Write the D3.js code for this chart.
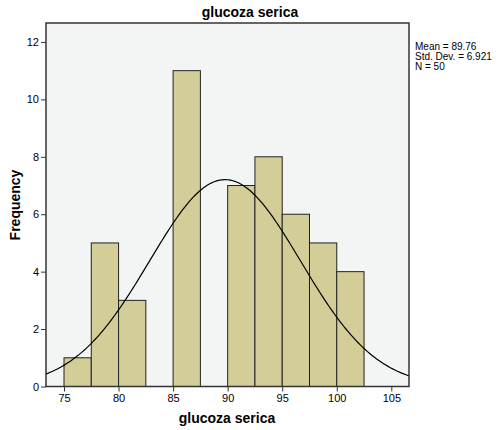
<!DOCTYPE html>
<html>
<head>
<meta charset="utf-8">
<script src="https://d3js.org/d3.v7.min.js"></script>
<style>
  body { margin: 0; background: #fff; }
  text { font-family: Arial, "Liberation Sans", sans-serif; fill: #000; }
</style>
</head>
<body>
<script>
// histogram bins (lower edge, width 2.5) and counts
var binStarts = [75, 77.5, 80, 82.5, 85, 87.5, 90, 92.5, 95, 97.5, 100];
var counts = [1, 5, 3, 0, 11, 0, 7, 8, 6, 5, 4];
var binWidth = 2.5;
var xTicks = [75, 80, 85, 90, 95, 100, 105];
var yTicks = [0, 2, 4, 6, 8, 10, 12];
var stats = ["Mean = 89.76", "Std. Dev. = 6.921", "N = 50"];
var mean = 89.76, sd = 6.921, n = 50;

var width = 499, height = 430;
var plotLeft = 46, plotRight = 409, plotTop = 23, plotBottom = 386.5;

var svg = d3.select("body").append("svg")
    .attr("width", width)
    .attr("height", height);

var x = d3.scaleLinear().domain([73.35, 106.62]).range([plotLeft, plotRight]);
var y = d3.scaleLinear().domain([0, 12.66]).range([plotBottom, plotTop]);

// plot background
svg.append("rect")
    .attr("x", plotLeft).attr("y", plotTop)
    .attr("width", plotRight - plotLeft).attr("height", plotBottom - plotTop)
    .attr("fill", "#f3f5f4");

var bins = binStarts.map(function(b, i) { return { x0: b, x1: b + binWidth, n: counts[i] }; })
    .filter(function(d) { return d.n > 0; });

svg.selectAll(".bar")
    .data(bins)
    .enter()
    .append("rect")
    .classed("bar", true)
    .attr("x", function(d) { return x(d.x0); })
    .attr("y", function(d) { return y(d.n); })
    .attr("width", function(d) { return x(d.x1) - x(d.x0); })
    .attr("height", function(d) { return y(0) - y(d.n); })
    .attr("fill", "#d3ce97")
    .attr("stroke", "#222")
    .attr("stroke-width", 1);

// normal curve
var pts = d3.range(0, 201).map(function(i) {
    var v = 73.35 + (106.62 - 73.35) * i / 200;
    var z = (v - mean) / sd;
    return [v, n * binWidth / (sd * Math.sqrt(2 * Math.PI)) * Math.exp(-0.5 * z * z)];
});
svg.append("path")
    .attr("d", d3.line().x(function(d) { return x(d[0]); }).y(function(d) { return y(d[1]); })(pts))
    .attr("fill", "none")
    .attr("stroke", "#000")
    .attr("stroke-width", 1.2);

// frame
svg.append("rect")
    .attr("x", plotLeft).attr("y", plotTop)
    .attr("width", plotRight - plotLeft).attr("height", plotBottom - plotTop)
    .attr("fill", "none")
    .attr("stroke", "#333")
    .attr("stroke-width", 1.5);

var xAxis = svg.append("g")
    .attr("transform", "translate(0," + plotBottom + ")")
    .call(d3.axisBottom(x).tickValues(xTicks).tickSize(5).tickPadding(3));
var yAxis = svg.append("g")
    .attr("transform", "translate(" + plotLeft + ",0)")
    .call(d3.axisLeft(y).tickValues(yTicks).tickSize(5).tickPadding(2));
[xAxis, yAxis].forEach(function(a) {
    a.select(".domain").remove();
    a.selectAll("line").attr("stroke", "#333");
    a.selectAll("text").attr("font-size", 11).attr("font-family", "Arial, 'Liberation Sans', sans-serif").attr("fill", "#222");
});

svg.append("text")
    .attr("x", 250).attr("y", 17)
    .attr("text-anchor", "middle")
    .attr("font-size", 14).attr("font-weight", "bold")
    .text("glucoza serica");

svg.append("text")
    .attr("x", 227).attr("y", 423)
    .attr("text-anchor", "middle")
    .attr("font-size", 14).attr("font-weight", "bold")
    .text("glucoza serica");

svg.append("text")
    .attr("transform", "translate(20,205) rotate(-90)")
    .attr("text-anchor", "middle")
    .attr("font-size", 14).attr("font-weight", "bold")
    .text("Frequency");

svg.selectAll(".stat")
    .data(stats)
    .enter()
    .append("text")
    .classed("stat", true)
    .attr("x", 415)
    .attr("y", function(d, i) { return 50 + i * 10; })
    .attr("font-size", 10)
    .text(function(d) { return d; });
</script>
</body>
</html>
